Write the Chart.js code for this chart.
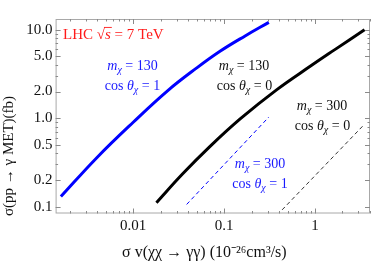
<!DOCTYPE html>
<html>
<head>
<meta charset="utf-8">
<script src="https://cdn.jsdelivr.net/npm/chart.js@4"></script>
<style>
  html, body { margin: 0; padding: 0; background: #fff; }
  #wrap { width: 374px; height: 262px; }
</style>
</head>
<body>
<div id="wrap"><canvas id="chart" width="374" height="262"></canvas></div>
<script>
// series (x: sigma v, y: sigma(pp -> gamma MET))
const blue130X = [0.0016, 0.004, 0.01, 0.024, 0.05, 0.09, 0.17, 0.31];
const blue130Y = [0.13, 0.36, 0.9, 2.05, 3.7, 5.7, 8.5, 12.1];
const black130X = [0.018, 0.035, 0.07, 0.15, 0.377, 0.9, 1.65, 3.5];
const black130Y = [0.111, 0.235, 0.48, 0.98, 2.09, 3.9, 5.95, 10.0];
const blue300X = [0.0387, 0.31];
const blue300Y = [0.106, 1.03];
const black300X = [0.434, 3.5];
const black300Y = [0.092, 0.855];

// ticks
const xTicks = [0.01, 0.1, 1];
const xTickLabels = ['0.01', '0.1', '1'];
const xMinor = [0.002, 0.003, 0.004, 0.005, 0.006, 0.007, 0.008, 0.009,
                0.02, 0.03, 0.04, 0.05, 0.06, 0.07, 0.08, 0.09,
                0.2, 0.3, 0.4, 0.5, 0.6, 0.7, 0.8, 0.9, 2, 3, 4];
const yTicks = [0.1, 0.2, 0.5, 1, 2, 5, 10];
const yTickLabels = ['0.1', '0.2', '0.5', '1.0', '2.0', '5.0', '10.0'];
const yMinor = [0.3, 0.4, 0.6, 0.7, 0.8, 0.9, 3, 4, 6, 7, 8, 9];

const xTitle = '\u03C3 v(\u03C7\u03C7 \u2192 \u03B3\u03B3) (10\u207B\u00B2\u2076cm\u00B3/s)';
const yTitle = '\u03C3(pp \u2192 \u03B3 MET)(fb)';

const SERIF = '"Liberation Serif", "Times New Roman", serif';
const pts = (xs, ys) => xs.map((x, i) => ({ x: x, y: ys[i] }));

// frame with inward ticks on all four sides
const framePlugin = {
  id: 'frame',
  afterDraw(chart) {
    const { ctx, chartArea: a, scales: { x, y } } = chart;
    ctx.save();
    ctx.strokeStyle = '#a8a8a8';
    ctx.lineWidth = 1;
    ctx.strokeRect(a.left + 0.5, a.top + 0.5, a.right - a.left - 1, a.bottom - a.top - 1);
    ctx.strokeStyle = '#8a8a8a';
    const tickX = (v, len) => {
      const px = Math.round(x.getPixelForValue(v)) + 0.5;
      ctx.beginPath();
      ctx.moveTo(px, a.bottom); ctx.lineTo(px, a.bottom - len);
      ctx.moveTo(px, a.top); ctx.lineTo(px, a.top + len);
      ctx.stroke();
    };
    const tickY = (v, len) => {
      const py = Math.round(y.getPixelForValue(v)) + 0.5;
      ctx.beginPath();
      ctx.moveTo(a.left, py); ctx.lineTo(a.left + len, py);
      ctx.moveTo(a.right, py); ctx.lineTo(a.right - len, py);
      ctx.stroke();
    };
    xTicks.forEach(v => tickX(v, 5));
    xMinor.forEach(v => tickX(v, 2.5));
    yTicks.forEach(v => tickY(v, 5));
    yMinor.forEach(v => tickY(v, 2.5));
    ctx.restore();
  }
};

function fontFor(style, size) {
  if (style === 'i' || style === 'ov') return 'italic ' + size + 'px ' + SERIF;
  if (style === 'sub') return 'italic ' + (size * 0.72) + 'px ' + SERIF;
  return size + 'px ' + SERIF;
}

function drawRich(ctx, parts, cx, cy, color, size, alignLeft) {
  ctx.save();
  ctx.fillStyle = color;
  ctx.strokeStyle = color;
  ctx.textBaseline = 'alphabetic';
  ctx.textAlign = 'left';
  let w = 0;
  parts.forEach(p => { ctx.font = fontFor(p[1], size); w += ctx.measureText(p[0]).width; });
  let px = alignLeft ? cx : cx - w / 2;
  const base = cy + size * 0.33;
  parts.forEach(p => {
    ctx.font = fontFor(p[1], size);
    const tw = ctx.measureText(p[0]).width;
    const dy = p[1] === 'sub' ? size * 0.22 : 0;
    ctx.fillText(p[0], px, base + dy);
    if (p[1] === 'ov') {
      ctx.lineWidth = 0.9;
      ctx.beginPath();
      ctx.moveTo(px - 1, base - size * 0.8);
      ctx.lineTo(px + tw + 1, base - size * 0.8);
      ctx.stroke();
    }
    px += tw;
  });
  ctx.restore();
}

const mLabel = n => [['m', 'i'], ['\u03C7', 'sub'], [' = ' + n, '']];
const cosLabel = n => [['cos ', ''], ['\u03B8', 'i'], ['\u03C7', 'sub'], [' = ' + n, '']];

const textPlugin = {
  id: 'texts',
  afterDraw(chart) {
    const ctx = chart.ctx;
    drawRich(ctx, [['LHC ', ''], ['\u221A', ''], ['s', 'ov'], [' = 7 TeV', '']], 63, 34.5, '#ff1a1a', 15, true);
    drawRich(ctx, mLabel(130), 132.5, 65, '#1a1aff', 14);
    drawRich(ctx, cosLabel(1), 132.5, 85, '#1a1aff', 14);
    drawRich(ctx, mLabel(130), 244, 65, '#111', 14);
    drawRich(ctx, cosLabel(0), 244.5, 85, '#111', 14);
    drawRich(ctx, mLabel(300), 322, 105, '#111', 14);
    drawRich(ctx, cosLabel(0), 322.5, 125, '#111', 14);
    drawRich(ctx, mLabel(300), 260, 163, '#1a1aff', 14);
    drawRich(ctx, cosLabel(1), 260, 183, '#1a1aff', 14);

    // axis titles
    ctx.save();
    ctx.fillStyle = '#111';
    ctx.textBaseline = 'middle';
    ctx.textAlign = 'left';
    ctx.font = '16px ' + SERIF;
    ctx.fillText(xTitle, 122, 252.5);
    ctx.translate(9.5, 216);
    ctx.rotate(-Math.PI / 2);
    ctx.font = '15px ' + SERIF;
    ctx.fillText(yTitle, 0, 0);
    ctx.restore();
  }
};

new Chart(document.getElementById('chart'), {
  type: 'line',
  data: {
    datasets: [
      { data: pts(blue130X, blue130Y), borderColor: '#0000ff', borderWidth: 3, tension: 0.4 },
      { data: pts(black130X, black130Y), borderColor: '#000000', borderWidth: 3, tension: 0.4 },
      { data: pts(blue300X, blue300Y), borderColor: '#0000ff', borderWidth: 1, borderDash: [4, 3] },
      { data: pts(black300X, black300Y), borderColor: '#333333', borderWidth: 1, borderDash: [4, 3] }
    ]
  },
  options: {
    responsive: false,
    animation: false,
    parsing: false,
    elements: { point: { radius: 0 } },
    layout: { padding: { top: 19, right: 4, left: 0, bottom: 0 } },
    plugins: { legend: { display: false }, tooltip: { enabled: false } },
    scales: {
      x: {
        type: 'logarithmic',
        min: 0.0014, max: 4.02,
        grid: { display: false, drawTicks: false, tickLength: 0 },
        border: { display: false },
        afterBuildTicks: s => { s.ticks = xTicks.map(v => ({ value: v })); },
        afterFit: s => { s.height = 48.5; },
        ticks: {
          padding: 4, autoSkip: false, maxRotation: 0,
          color: '#111', font: { family: SERIF, size: 15 },
          callback: v => xTickLabels[xTicks.indexOf(v)]
        }
      },
      y: {
        type: 'logarithmic',
        min: 0.0837, max: 13.2,
        grid: { display: false, drawTicks: false, tickLength: 0 },
        border: { display: false },
        afterBuildTicks: s => { s.ticks = yTicks.map(v => ({ value: v })); },
        afterFit: s => { s.width = 55.6; },
        ticks: {
          padding: 3, autoSkip: false,
          color: '#111', font: { family: SERIF, size: 15 },
          callback: v => yTickLabels[yTicks.indexOf(v)]
        }
      }
    }
  },
  plugins: [framePlugin, textPlugin]
});
</script>
</body>
</html>
